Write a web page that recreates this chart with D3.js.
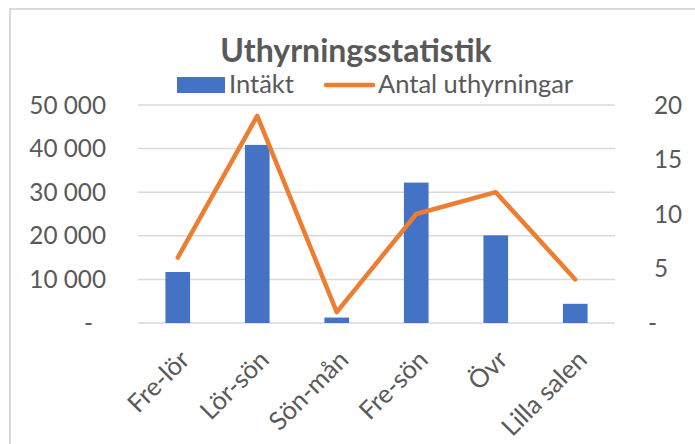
<!DOCTYPE html>
<html>
<head>
<meta charset="utf-8">
<script src="https://cdn.jsdelivr.net/npm/d3@7"></script>
<style>
    html, body { margin: 0; padding: 0; background: #fff; }
    text { font-family: Lato, "Open Sans", sans-serif; fill: #595959; }
</style>
</head>
<body>
<div id="chart"></div>
<script>
// Data
const categories = ["Fre-lör", "Lör-sön", "Sön-mån", "Fre-sön", "Övr", "Lilla salen"];
const intakt = [11700, 40850, 1250, 32200, 20100, 4400];
const antalUthyrningar = [6, 19, 1, 10, 12, 4];
const leftTicks = [0, 10000, 20000, 30000, 40000, 50000];
const rightTicks = [0, 5, 10, 15, 20];

const width = 695, height = 444;
const margin = { left: 138, right: 80, top: 105, bottom: 121 };
const axisFont = "24.3px", labelFont = "25.5px";

const svg = d3.select("#chart").append("svg")
    .attr("width", width)
    .attr("height", height);

// chart area frame (only top and left edges visible)
svg.append("rect")
    .attr("x", 10).attr("y", 9)
    .attr("width", 700).attr("height", 460)
    .attr("fill", "none")
    .attr("stroke", "#d9d9d9")
    .attr("stroke-width", 2);

// scales
const x = d3.scaleBand()
    .domain(categories)
    .range([margin.left, width - margin.right]);

const yLeft = d3.scaleLinear()
    .domain([0, 50000])
    .range([height - margin.bottom, margin.top]);

const yRight = d3.scaleLinear()
    .domain([0, 20])
    .range([height - margin.bottom, margin.top]);

const fmt = v => v === 0 ? "-" : d3.format(",")(v).replace(/,/g, " ");

// gridlines
svg.append("g")
    .selectAll("line")
    .data(leftTicks)
    .join("line")
    .attr("x1", margin.left)
    .attr("x2", width - margin.right)
    .attr("y1", d => yLeft(d))
    .attr("y2", d => yLeft(d))
    .attr("stroke", "#d9d9d9")
    .attr("stroke-width", 1.5);

// left axis labels
svg.append("g")
    .selectAll("text")
    .data(leftTicks)
    .join("text")
    .attr("x", d => d === 0 ? 93 : 106)
    .attr("y", d => yLeft(d))
    .attr("dy", "0.35em")
    .attr("text-anchor", "end")
    .style("font-size", axisFont)
    .text(fmt);

// right axis labels
svg.append("g")
    .selectAll("text")
    .data(rightTicks)
    .join("text")
    .attr("x", d => d === 0 ? 648 : 654)
    .attr("y", d => yRight(d))
    .attr("dy", "0.35em")
    .attr("text-anchor", "start")
    .style("font-size", axisFont)
    .text(fmt);

// bars
const barWidth = x.bandwidth() * 0.31;
svg.append("g")
    .selectAll("rect")
    .data(categories)
    .join("rect")
    .attr("x", d => x(d) + x.bandwidth() / 2 - barWidth / 2)
    .attr("y", (d, i) => yLeft(intakt[i]))
    .attr("width", barWidth)
    .attr("height", (d, i) => yLeft(0) - yLeft(intakt[i]))
    .attr("fill", "#4472c4");

// line
const line = d3.line()
    .x((d, i) => x(categories[i]) + x.bandwidth() / 2)
    .y(d => yRight(d));

svg.append("path")
    .datum(antalUthyrningar)
    .attr("d", line)
    .attr("fill", "none")
    .attr("stroke", "#ed7d31")
    .attr("stroke-width", 4.5)
    .attr("stroke-linejoin", "round")
    .attr("stroke-linecap", "round");

// category labels, rotated
svg.append("g")
    .selectAll("text")
    .data(categories)
    .join("text")
    .attr("transform", d => `translate(${x(d) + x.bandwidth() / 2 + 7}, 355) rotate(-45)`)
    .attr("dy", "0.35em")
    .attr("text-anchor", "end")
    .style("font-size", labelFont)
    .text(d => d);

// title
svg.append("text")
    .attr("x", 356)
    .attr("y", 62)
    .attr("text-anchor", "middle")
    .style("font-size", "32px")
    .style("font-weight", "bold")
    .text("Uthyrningsstatistik");

// legend
const legend = svg.append("g");
legend.append("rect")
    .attr("x", 177).attr("y", 77)
    .attr("width", 48).attr("height", 16)
    .attr("fill", "#4472c4");
legend.append("text")
    .attr("x", 229).attr("y", 93)
    .style("font-size", labelFont)
    .text("Intäkt");
legend.append("line")
    .attr("x1", 326).attr("x2", 373)
    .attr("y1", 85).attr("y2", 85)
    .attr("stroke", "#ed7d31")
    .attr("stroke-width", 4.5)
    .attr("stroke-linecap", "round");
legend.append("text")
    .attr("x", 378).attr("y", 93)
    .style("font-size", labelFont)
    .text("Antal uthyrningar");
</script>
</body>
</html>
